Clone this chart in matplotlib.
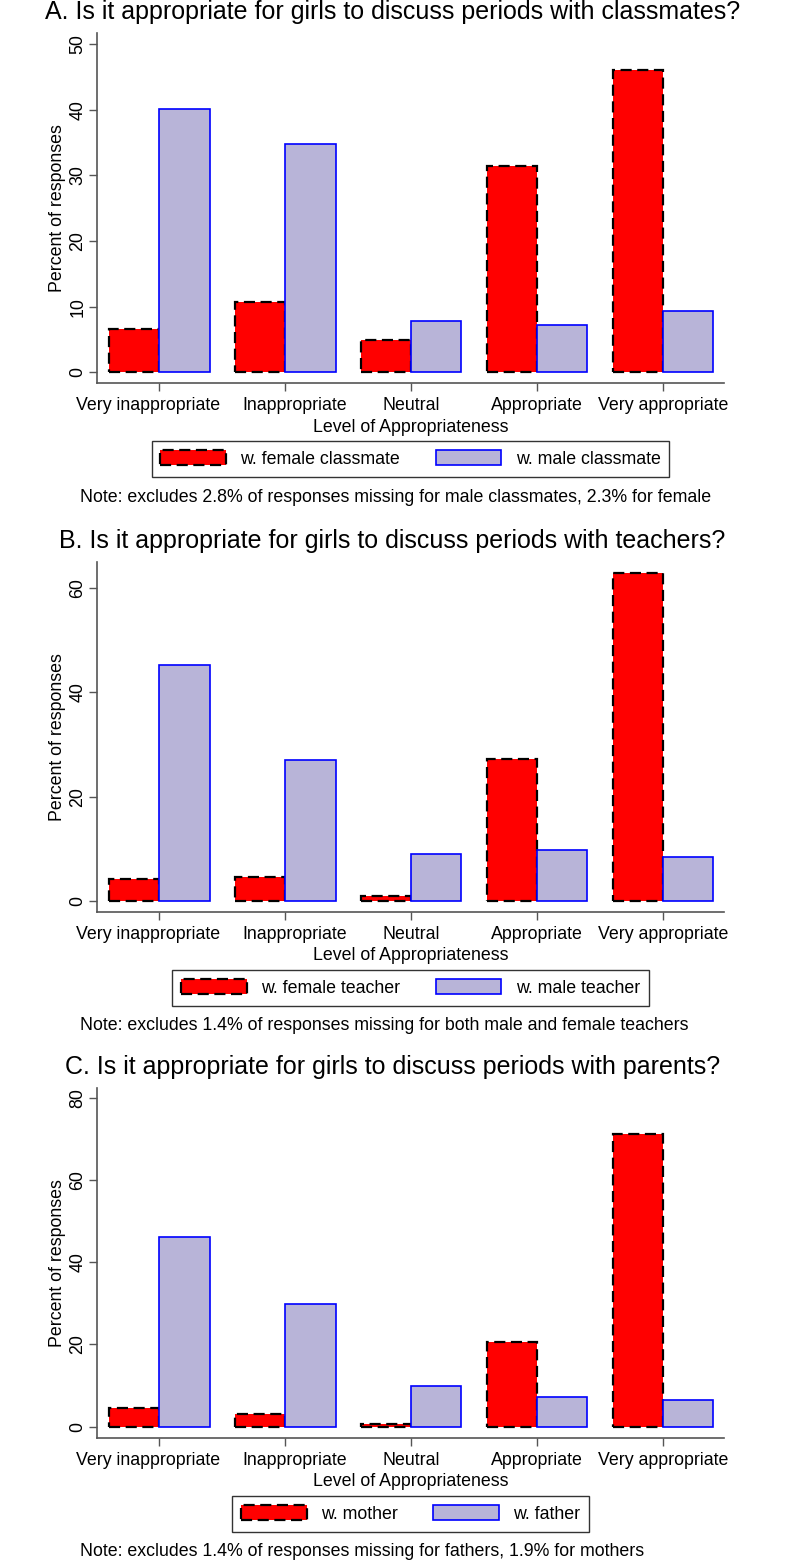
import numpy as np
import matplotlib
matplotlib.use("Agg")
import matplotlib.pyplot as plt

plt.rcParams['font.family'] = ['Liberation Sans', 'DejaVu Sans']

categories = ['Very inappropriate', 'Inappropriate', 'Neutral', 'Appropriate', 'Very appropriate']

# panel A: classmates
classmate_female = [6.6, 10.7, 5.0, 31.4, 46.1]
classmate_male = [40.2, 34.8, 7.9, 7.3, 9.4]
# panel B: teachers
teacher_female = [4.2, 4.7, 0.9, 27.2, 62.9]
teacher_male = [45.2, 27.1, 9.1, 9.8, 8.4]
# panel C: parents
parent_mother = [4.6, 3.1, 0.5, 20.6, 71.2]
parent_father = [46.1, 29.8, 9.8, 7.2, 6.4]

titles = ['A. Is it appropriate for girls to discuss periods with classmates?',
          'B. Is it appropriate for girls to discuss periods with teachers?',
          'C. Is it appropriate for girls to discuss periods with parents?']
legend_labels = [('w. female classmate', 'w. male classmate'),
                 ('w. female teacher', 'w. male teacher'),
                 ('w. mother', 'w. father')]
notes = ['Note: excludes 2.8% of responses missing for male classmates, 2.3% for female',
         'Note: excludes 1.4% of responses missing for both male and female teachers',
         'Note: excludes 1.4% of responses missing for fathers, 1.9% for mothers']
yticks = [[0, 10, 20, 30, 40, 50], [0, 20, 40, 60], [0, 20, 40, 60, 80]]
ylims = [(-1.6, 51.7), (-2.1, 65.0), (-2.8, 82.5)]

W, H = 785, 1566
fig = plt.figure(figsize=(W / 100, H / 100), dpi=100)

def fx(x):
    return x / W

def fy(y):
    return 1 - y / H

ax_left, ax_right = 97, 724
ax_tops = [33, 562, 1088]
ax_h = 350

panels = [(classmate_female, classmate_male), (teacher_female, teacher_male),
          (parent_mother, parent_father)]

x = np.arange(len(categories))
bw = 0.4
axis_col = '#555555'
fs = 12.8
# the two crowded left labels are pushed apart, as in the original (points)
label_shift = [-8.0, 6.5, 0, 0, 0]

for i, (red_vals, blue_vals) in enumerate(panels):
    top = ax_tops[i]
    bottom = top + ax_h
    ax = fig.add_axes([fx(ax_left), fy(bottom), fx(ax_right - ax_left), ax_h / H])
    b1 = ax.bar(x - bw / 2, red_vals, width=bw, color='#ff0000', edgecolor='black',
                linewidth=1.6, linestyle=(0, (5, 2.5)))
    b2 = ax.bar(x + bw / 2, blue_vals, width=bw, color='#b8b4d8', edgecolor='#0000ff',
                linewidth=1.2)
    ax.set_xlim(-0.495, 4.485)
    ax.set_ylim(*ylims[i])
    ax.set_xticks(x)
    ax.set_xticklabels([''] * len(categories))
    for xi, cat, dx in zip(x, categories, label_shift):
        ax.annotate(cat, xy=(xi, 0), xycoords=ax.get_xaxis_transform(),
                    xytext=(dx, -10.3), textcoords='offset points',
                    ha='center', va='top', fontsize=fs)
    ax.set_yticks(yticks[i])
    ax.set_yticklabels([str(v) for v in yticks[i]], fontsize=fs, rotation=90, va='center')
    for s in ['top', 'right']:
        ax.spines[s].set_visible(False)
    for s in ['left', 'bottom']:
        ax.spines[s].set_color(axis_col)
        ax.spines[s].set_linewidth(1.2)
    ax.tick_params(axis='both', colors=axis_col, labelcolor='black', length=6, width=1.0)
    ax.tick_params(axis='y', pad=1.5)
    ax.set_ylabel('Percent of responses', fontsize=fs, labelpad=2.5)

    fig.text(fx(410.5), fy(bottom + 44), 'Level of Appropriateness', fontsize=fs,
             ha='center', va='center')

    # title centred on the whole figure
    fig.text(0.5, fy(top - 21), titles[i], fontsize=18, ha='center', va='center')

    leg = fig.legend([b1, b2], legend_labels[i], loc='center',
                     bbox_to_anchor=(fx(410.5), fy(bottom + 76)), ncol=2,
                     fontsize=fs, frameon=True, fancybox=False, edgecolor='black',
                     handlelength=3.7, handleheight=0.95, columnspacing=2.0,
                     handletextpad=0.8, borderpad=0.5)
    leg.get_frame().set_linewidth(1.0)

    fig.text(fx(80), fy(bottom + 114), notes[i], fontsize=12.8, ha='left', va='center')

fig.savefig('out.png', dpi=100)
